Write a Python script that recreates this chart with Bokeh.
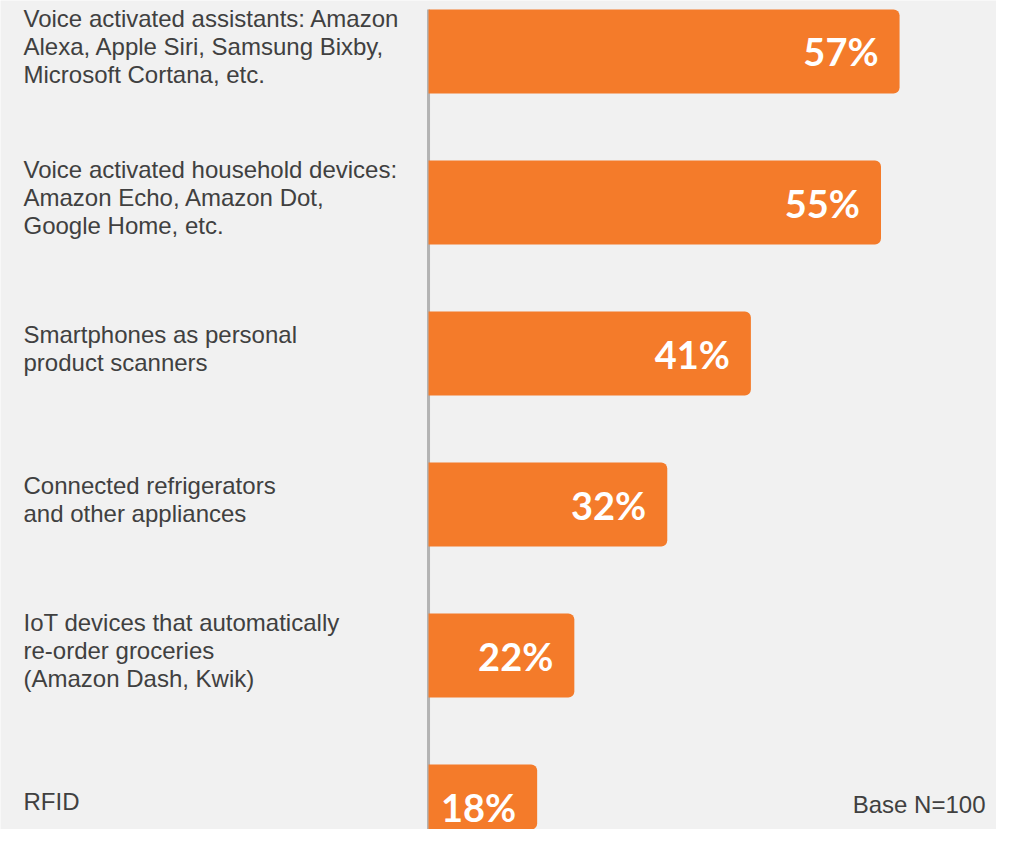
from bokeh.plotting import figure
from bokeh.models import Range1d, ColumnDataSource
from bokeh.core.properties import value
from bokeh.embed import file_html
from bokeh.resources import INLINE

# ---- data ----
categories = [
    "Voice activated assistants: Amazon\nAlexa, Apple Siri, Samsung Bixby,\nMicrosoft Cortana, etc.",
    "Voice activated household devices:\nAmazon Echo, Amazon Dot,\nGoogle Home, etc.",
    "Smartphones as personal\nproduct scanners",
    "Connected refrigerators\nand other appliances",
    "IoT devices that automatically\nre-order groceries\n(Amazon Dash, Kwik)",
    "RFID",
]
percentages = [57, 55, 41, 32, 22, 18]
value_labels = [f"{v}%" for v in percentages]
base_note = "Base N=100"

# ---- layout ----
W, H = 996, 829
X_START, X_END = -39.75, 67.43
AXIS_X = 6.31
BAR_H = 0.556
BG = "#f1f1f1"
BAR_COLOR = "#f47b2a"
TEXT_COLOR = "#404040"

ypos = list(range(len(categories)))
src = ColumnDataSource(dict(
    y=ypos,
    cat=categories,
    val=percentages,
    lab=value_labels,
    left=[AXIS_X] * len(categories),
    lx=[X_START] * len(categories),
))

p = figure(width=W, height=H, output_backend="svg", toolbar_location=None,
           x_range=Range1d(X_START, X_END),
           y_range=Range1d(start=5.152, end=-0.3377),
           min_border=0, outline_line_color=None,
           background_fill_color=BG, border_fill_color=BG)
p.axis.visible = False
p.grid.visible = False

# vertical axis line
p.segment(x0=[AXIS_X], y0=[-BAR_H / 2], x1=[AXIS_X], y1=[len(categories) + 1],
          line_color="#b3b3b3", line_width=3)

# bars
p.hbar(y="y", left="left", right="val", height=BAR_H, source=src,
       fill_color=BAR_COLOR, line_color=None,
       border_radius=(0, 6, 6, 0))

# value labels inside bars
p.text(x="val", y="y", text="lab", source=src, x_offset=-21,
       text_align="right", text_baseline="middle",
       text_font=value("Lato"), text_font_style="bold",
       text_font_size="38px", text_color="white")

# category labels
p.text(x="lx", y="y", text="cat", source=src, x_offset=23, y_offset=-5,
       text_align="left", text_baseline="middle",
       text_font=value("Liberation Sans"), text_font_size="24px",
       text_line_height=1.02, text_color=TEXT_COLOR)

# base note
p.text(x=[X_END], y=[ypos[-1]], text=[base_note], x_offset=-11, y_offset=-2,
       text_align="right", text_baseline="middle",
       text_font=value("Liberation Sans"), text_font_size="24px",
       text_color=TEXT_COLOR)

open("out.html", "w").write(file_html(p, INLINE))
